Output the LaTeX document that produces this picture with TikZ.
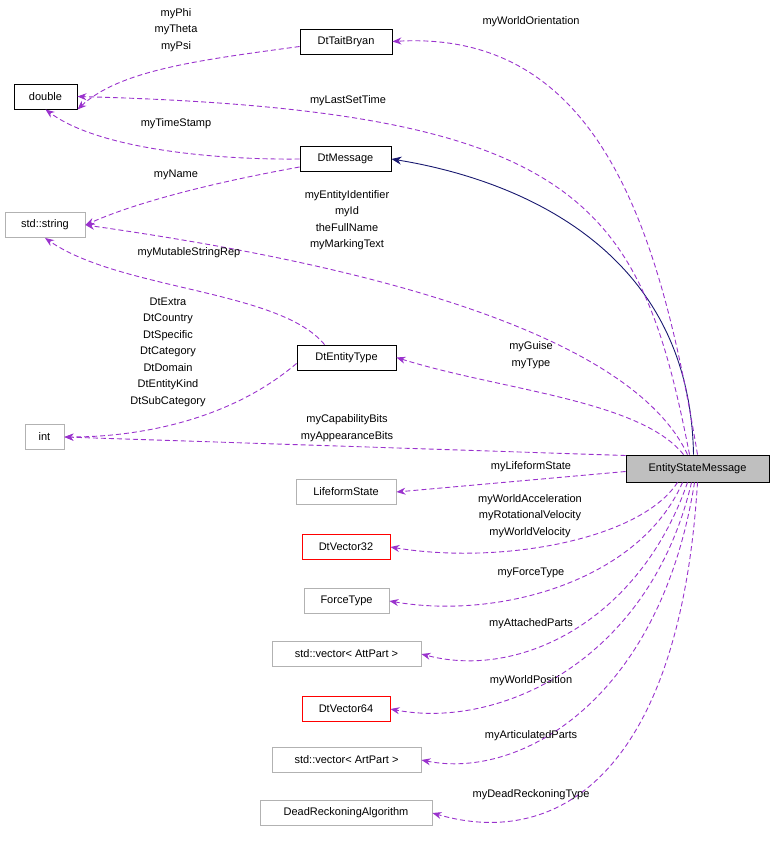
\documentclass[tikz,border=0pt]{standalone}
\usepackage{fontspec}
\setmainfont{Liberation Sans}
\usetikzlibrary{arrows.meta}
\definecolor{pur}{HTML}{9A32CD}
\definecolor{navy}{HTML}{191970}
\begin{document}
\begin{tikzpicture}[x=1pt,y=-1pt,
 every node/.style={font=\fontsize{11}{16.5}\selectfont},
 box/.style={draw,line width=0.9pt,minimum height=25pt,inner xsep=0pt,anchor=center},
 gb/.style={box,draw=gray!60},
 rb/.style={box,draw=red},
 bb/.style={box,draw=black},
 use/.style={draw=pur,dash pattern=on 5pt off 3pt,line width=0.9pt,-{Stealth[length=9pt,width=7pt]}},
 lab/.style={align=center,inner sep=0pt}]
\useasboundingbox (0,0) rectangle (773,844);
\node[bb,minimum width=63pt] (dbl) at (45.5,96.5) {double};
\node[bb,minimum width=92pt] (tb) at (346,41.5) {DtTaitBryan};
\node[bb,minimum width=91pt] (msg) at (345.5,159) {DtMessage};
\node[gb,minimum width=80pt] (str) at (45,225) {std::string};
\node[bb,minimum width=99pt] (et) at (346.5,357.5) {DtEntityType};
\node[gb,minimum width=39pt] (int) at (44.5,437) {int};
\node[bb,fill=gray!50,minimum width=143pt,minimum height=27pt] (esm) at (697.5,468.5) {EntityStateMessage};
\node[gb,minimum width=100pt] (lf) at (346,492) {LifeformState};
\node[rb,minimum width=88pt] (v32) at (346,547) {DtVector32};
\node[gb,minimum width=85pt] (ft) at (346.5,601) {ForceType};
\node[gb,minimum width=149pt] (att) at (346.5,654) {std::vector< AttPart >};
\node[rb,minimum width=88pt] (v64) at (346,709) {DtVector64};
\node[gb,minimum width=149pt] (art) at (346.5,760) {std::vector< ArtPart >};
\node[gb,minimum width=172pt] (dr) at (346,813) {DeadReckoningAlgorithm};

% inheritance
\draw[navy,line width=0.9pt,-{Stealth[length=10pt,width=8pt]}] (esm.north) ++(-4,0) coordinate (e0) (e0) .. controls (690,250) and (520,180) .. (msg.east);
% uses from members
\draw[use] (tb.west) ++(0,5) coordinate (t1) (t1) .. controls (200,60) and (120,70) .. (dbl.south east);
\draw[use] (msg.west) .. controls (220,160) and (100,150) .. (dbl.south);
\draw[use] (msg.west) ++(0,8) coordinate (m1) (m1) .. controls (200,185) and (130,205) .. (str.east);
\draw[use] (et.north) ++(-22,0) coordinate (et1) (et1) .. controls (280,290) and (120,290) .. (str.south);
\draw[use] (et.south west) ++(0,-7) coordinate (et2) (et2) .. controls (230,420) and (140,437) .. (int.east);
% from EntityStateMessage
\draw[use] (esm.north) .. controls (660,230) and (600,30) .. (tb.east);
\draw[use] (esm.north) ++(-8,0) coordinate (e1) (e1) .. controls (640,200) and (580,110) .. (dbl.east);
\draw[use] (esm.north) ++(-10,0) coordinate (e2) (e2) .. controls (620,310) and (260,250) .. (str.east);
\draw[use] (esm.north) ++(-14,0) coordinate (e3) (e3) .. controls (640,400) and (500,390) .. (et.east);
\draw[use] (esm.west) ++(0,-13) coordinate (e4) (e4) -- (int.east);
\draw[use] (esm.west) ++(0,3) coordinate (e5) (e5) -- (lf.east);
\draw[use] (esm.south) ++(-20,0) coordinate (e6) (e6) .. controls (640,540) and (500,565) .. (v32.east);
\draw[use] (esm.south) ++(-15,0) coordinate (e7) (e7) .. controls (640,580) and (500,620) .. (ft.east);
\draw[use] (esm.south) ++(-10,0) coordinate (e8) (e8) .. controls (640,620) and (520,680) .. (att.east);
\draw[use] (esm.south) ++(-6,0) coordinate (e9) (e9) .. controls (650,660) and (500,730) .. (v64.east);
\draw[use] (esm.south) ++(-3,0) coordinate (e10) (e10) .. controls (660,700) and (520,780) .. (art.east);
\draw[use] (esm.south) .. controls (680,770) and (560,850) .. (dr.east);

% labels
\node[lab] at (176,30) {myPhi\\myTheta\\myPsi};
\node[lab] at (176,124) {myTimeStamp};
\node[lab] at (176,175) {myName};
\node[lab] at (189,253) {myMutableStringRep};
\node[lab] at (168,352) {DtExtra\\DtCountry\\DtSpecific\\DtCategory\\DtDomain\\DtEntityKind\\DtSubCategory};
\node[lab] at (531,22) {myWorldOrientation};
\node[lab] at (348,101) {myLastSetTime};
\node[lab] at (347,220) {myEntityIdentifier\\myId\\theFullName\\myMarkingText};
\node[lab] at (531,355) {myGuise\\myType};
\node[lab] at (347,428) {myCapabilityBits\\myAppearanceBits};
\node[lab] at (531,467) {myLifeformState};
\node[lab] at (530,516) {myWorldAcceleration\\myRotationalVelocity\\myWorldVelocity};
\node[lab] at (531,573) {myForceType};
\node[lab] at (531,624) {myAttachedParts};
\node[lab] at (531,681) {myWorldPosition};
\node[lab] at (531,736) {myArticulatedParts};
\node[lab] at (531,795) {myDeadReckoningType};
\end{tikzpicture}
\end{document}
